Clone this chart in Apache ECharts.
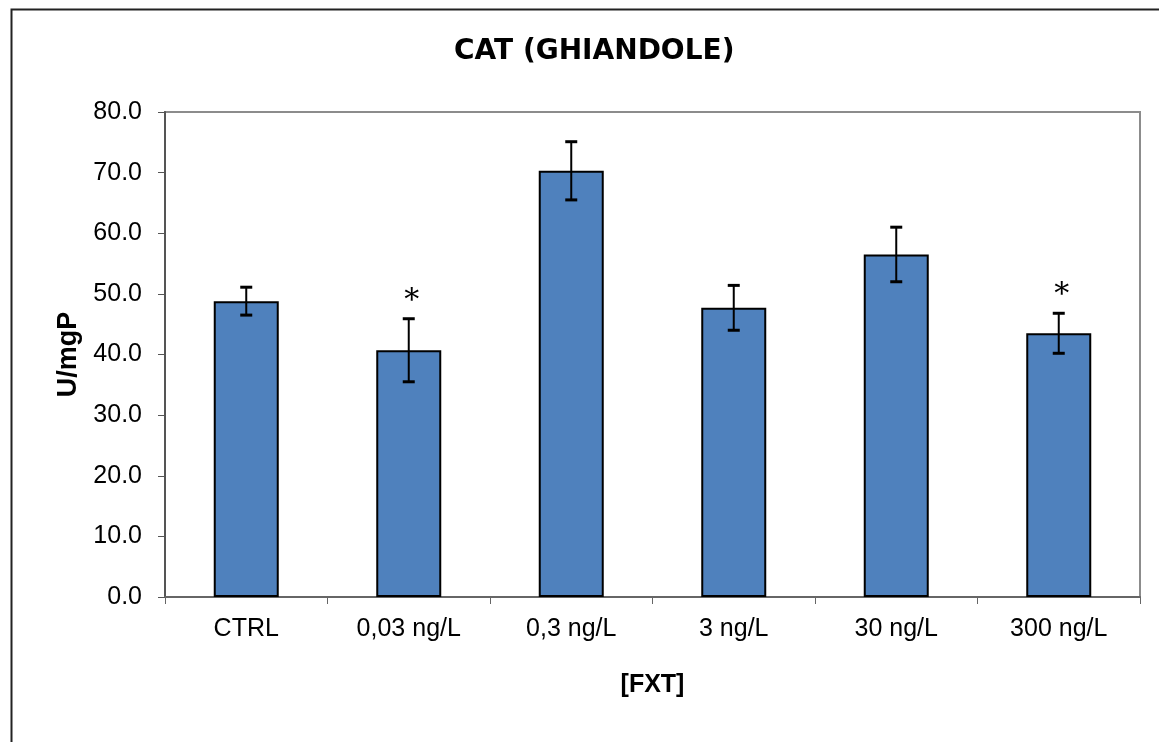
<!DOCTYPE html>
<html><head><meta charset="utf-8">
<script src="https://cdn.jsdelivr.net/npm/echarts@6/dist/echarts.min.js"></script>
<style>html,body{margin:0;padding:0;background:#fff}#c{width:1159px;height:742px}</style>
</head><body><div id="c"></div>
<script>
const categories = ['CTRL', '0,03 ng/L', '0,3 ng/L', '3 ng/L', '30 ng/L', '300 ng/L'];
const means = [48.8, 40.7, 70.3, 47.7, 56.5, 43.5];
const errors = [2.3, 5.2, 4.8, 3.7, 4.5, 3.3];
const significant = [false, true, false, false, false, true];
const yTicks = [0, 10, 20, 30, 40, 50, 60, 70, 80];

const chart = echarts.init(document.getElementById('c'), null, {renderer: 'canvas'});
const errData = categories.map((c, i) => [i, means[i] - errors[i], means[i] + errors[i], significant[i] ? 1 : 0]);

chart.setOption({
  animation: false,
  backgroundColor: '#fff',
  title: {
    text: 'CAT (GHIANDOLE)', left: 449, top: 33,
    textStyle: {fontFamily: 'DejaVu Sans', fontWeight: 'bold', fontSize: 28, color: '#000'}
  },
  graphic: [{
    type: 'rect', shape: {x: 11.5, y: 9.5, width: 1160, height: 760},
    style: {fill: 'none', stroke: '#222', lineWidth: 2}, silent: true
  }],
  grid: {left: 165, right: 19, top: 112, bottom: 145, show: true, borderColor: '#8c8c8c', borderWidth: 2, backgroundColor: 'transparent'},
  xAxis: {
    type: 'category', data: categories,
    name: '[FXT]', nameLocation: 'middle', nameGap: 76,
    nameTextStyle: {fontFamily: 'Liberation Sans', fontWeight: 'bold', fontSize: 25, color: '#000'},
    axisLine: {lineStyle: {color: '#666', width: 2}},
    axisTick: {show: true, length: 7, lineStyle: {color: '#666', width: 1}},
    axisLabel: {fontFamily: 'Liberation Sans', fontSize: 25, color: '#000', margin: 20}
  },
  yAxis: {
    type: 'value', min: 0, max: 80, interval: 10,
    name: 'U/mgP', nameLocation: 'middle', nameGap: 80, nameRotate: 90,
    nameTextStyle: {fontFamily: 'Liberation Sans', fontWeight: 'bold', fontSize: 27, color: '#000'},
    axisLine: {show: true, lineStyle: {color: '#555', width: 2}},
    axisTick: {show: true, length: 7, lineStyle: {color: '#555', width: 1}},
    splitLine: {show: false},
    axisLabel: {fontFamily: 'Liberation Sans', fontSize: 25, color: '#000', margin: 23,
      formatter: v => yTicks.includes(v) ? v.toFixed(1) : ''}
  },
  series: [{
    type: 'bar', data: means, barWidth: '40%',
    itemStyle: {color: '#4F81BD', borderColor: '#000', borderWidth: 2}
  }, {
    type: 'custom', data: errData, z: 10,
    renderItem: function (params, api) {
      const x = api.coord([api.value(0), 0])[0];
      const lo = api.coord([api.value(0), api.value(1)])[1];
      const hi = api.coord([api.value(0), api.value(2)])[1];
      const hw = 6;
      const children = [
        {type: 'line', shape: {x1: x, y1: lo, x2: x, y2: hi}, style: {stroke: '#000', lineWidth: 2}},
        {type: 'line', shape: {x1: x - hw, y1: hi, x2: x + hw, y2: hi}, style: {stroke: '#000', lineWidth: 3}},
        {type: 'line', shape: {x1: x - hw, y1: lo, x2: x + hw, y2: lo}, style: {stroke: '#000', lineWidth: 3}}
      ];
      if (api.value(3)) {
        children.push({type: 'text', style: {text: '*', x: x + 3, y: hi - 18, align: 'center', verticalAlign: 'middle',
          font: '30px "DejaVu Serif", "Liberation Serif"', fill: '#000'}});
      }
      return {type: 'group', children: children};
    }
  }]
});
</script></body></html>
